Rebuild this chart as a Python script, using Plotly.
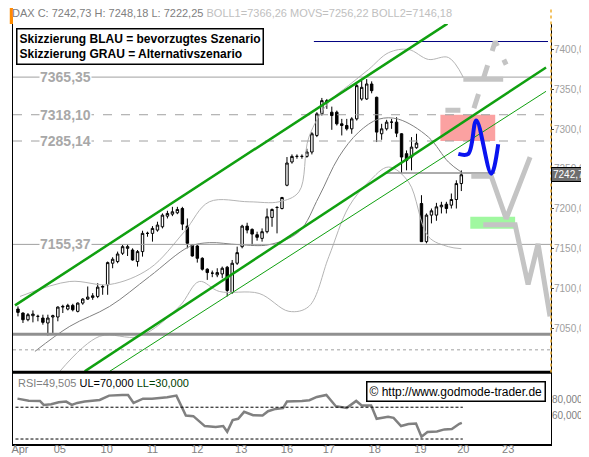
import plotly.graph_objects as go

# hourly candles, Apr 04 - Apr 20 (bar index = position)
opens = [7074.2, 7069.2, 7060.8, 7065.8, 7065, 7062.9, 7056.7, 7064.2, 7064.2, 7076.7,
         7074.2, 7078.8, 7071.3, 7081.7, 7086.7, 7088.8, 7090, 7101.7, 7104.6, 7131.7,
         7133.8, 7144.2, 7150.4, 7148.3, 7133.8, 7146.3, 7169.2, 7169.2, 7173.3, 7177.5,
         7190.8, 7193.3, 7195, 7200.4, 7178.3, 7154.6, 7153.3, 7137.9, 7124.2, 7119.2,
         7117.1, 7118.3, 7126.7, 7095, 7131.7, 7152.5, 7178.3, 7174.2, 7167.5, 7162.9,
         7171.3, 7189.2, 7201.7, 7200.4, 7229.6, 7258.8, 7265.8, 7265.8, 7265.8, 7271.3,
         7292.1, 7319.2, 7333.8, 7321.3, 7321.3, 7306.7, 7304.6, 7300.4, 7312.9, 7337.9,
         7337.9, 7356.7, 7340, 7294.2, 7300.4, 7308.8, 7308.8, 7294.2, 7269.2, 7265,
         7276.7, 7206.7, 7158.8, 7192.1, 7192.1, 7202.5, 7205.8, 7204.6, 7211.7, 7231.7]
highs = [7077.5, 7070, 7069.2, 7072.5, 7067.1, 7067.1, 7067.1, 7067.1, 7077.5, 7079.6,
         7080.8, 7080.8, 7082.5, 7087.9, 7102.5, 7094.2, 7106.7, 7104.6, 7133.8, 7139.2,
         7146.3, 7154.6, 7155.8, 7150.4, 7148.3, 7172.5, 7171.3, 7178.3, 7183.8, 7194.2,
         7197.5, 7202.5, 7202.5, 7202.5, 7187.9, 7155.8, 7154.6, 7139.2, 7125.4, 7122.5,
         7125.4, 7127.5, 7128.3, 7135.8, 7152.5, 7180, 7182.5, 7175.4, 7171.3, 7175.4,
         7200.4, 7200.4, 7203.3, 7215, 7265, 7268.3, 7268.3, 7268.3, 7275.4, 7296.3,
         7321.3, 7339.2, 7337.9, 7328.3, 7323.3, 7312.9, 7312.9, 7315, 7356.7, 7360.8,
         7362.9, 7360, 7340.8, 7306.7, 7311.7, 7312.9, 7315, 7295, 7273.3, 7290,
         7294.2, 7217.1, 7194.2, 7200.4, 7207.5, 7208.8, 7208.8, 7219.2, 7235.8, 7248.2]
lows = [7065, 7056.7, 7058.8, 7057.5, 7058.8, 7054.6, 7040.8, 7044.2, 7058.8, 7069.2,
        7072.5, 7071.3, 7070, 7079.6, 7085.8, 7085.8, 7087.9, 7092.1, 7092.1, 7125.4,
        7131.7, 7142.1, 7140.8, 7135, 7127.5, 7140, 7165, 7158.8, 7171.3, 7175.4,
        7187.9, 7190.8, 7193.3, 7173.3, 7150.4, 7140, 7132.5, 7122.5, 7110.8, 7114.2,
        7114.2, 7112.9, 7090, 7093.3, 7129.6, 7150.4, 7169.2, 7153.3, 7160, 7158.8,
        7169.2, 7177.5, 7169.2, 7199.2, 7228.3, 7256.7, 7262.9, 7262.9, 7264.2, 7268.3,
        7290, 7317.1, 7325.4, 7299.2, 7304.6, 7292.1, 7298.3, 7294.2, 7310.8, 7335.8,
        7336.7, 7345, 7283.8, 7286.7, 7298.3, 7300.4, 7290, 7245, 7248.3, 7248.3,
        7275.4, 7158.8, 7156.7, 7181.7, 7185, 7194.2, 7194.2, 7200.4, 7200.4, 7222.3]
closes = [7070, 7060.8, 7067.1, 7067.9, 7065, 7057.5, 7062.9, 7065.8, 7076.7, 7077.5,
          7078.8, 7073.3, 7081.7, 7086.7, 7089.2, 7090.8, 7101.7, 7102.5, 7132.5, 7136.7,
          7143.3, 7152.5, 7152.5, 7135.8, 7146.3, 7169.2, 7169.2, 7175.4, 7179.6, 7192.1,
          7194.2, 7196.3, 7199.2, 7180.8, 7156.7, 7140.8, 7137.9, 7124.2, 7120, 7119.2,
          7120, 7125.4, 7097.5, 7131.7, 7145, 7178.3, 7173.3, 7168.3, 7164.2, 7171.3,
          7190, 7199.2, 7201.7, 7214.2, 7257.5, 7265.8, 7265.8, 7265.8, 7271.3, 7294.2,
          7319.2, 7335.8, 7335.8, 7317.1, 7306.7, 7304.6, 7300.4, 7312.9, 7354.6, 7352.5,
          7356.7, 7348.3, 7296.3, 7300.4, 7308.8, 7308.8, 7295, 7265, 7260.8, 7277.5,
          7282.5, 7158.8, 7192.1, 7197.5, 7202.5, 7204.6, 7200.4, 7211.7, 7231.7, 7242.73]

boll_up_x = [0.4, 10.4, 18.4, 26.4, 33.4, 38.4, 46.4, 52.4, 56.4, 58.4, 62.4, 66.4, 70.4, 74.4, 78.4, 82.4, 86.4, 89.4]
boll_up_y = [7090, 7108.8, 7105, 7125, 7171.3, 7208.8, 7208.8, 7208.8, 7221.3, 7290, 7333.8, 7355, 7375, 7396, 7400, 7387.5, 7390, 7365]
movs_x = [3.4, 10.4, 18.4, 26.4, 34.4, 38.4, 44.4, 50.4, 56.4, 60.4, 64.4, 68.4, 72.4, 76.4, 82.4, 86.4, 89]
movs_y = [7021, 7052.5, 7077.5, 7115, 7152.5, 7157.5, 7155, 7155, 7171.3, 7215, 7265, 7296.3, 7312.5, 7312.5, 7290, 7258.8, 7246]
boll_lo_x = [8.4, 16.4, 24.4, 32.4, 36.4, 40.4, 48.4, 54.4, 58.4, 62.4, 66.4, 70.4, 74.4, 78.4, 82.4, 86.4, 89]
boll_lo_y = [6996, 7040, 7040, 7077.5, 7108.8, 7096.3, 7093.8, 7071.3, 7077.5, 7140, 7202.5, 7233.8, 7252.5, 7233.8, 7165, 7152.5, 7150]

# trend channel (start/end points)
chan_up = ([-0.6, 86.2], [7078.75, 7432.5])
chan_mid = ([13.4, 106], [6996, 7377.5])
chan_thin = ([18.4, 106], [6996, 7347.5])

# scenarios
blue_x = [88.4, 90.4, 92, 95, 96.4]
blue_y = [7269, 7269, 7311, 7244, 7281]
gray_a_x = [85.8, 91.4, 95.8, 98]
gray_a_y = [7323.8, 7323.8, 7410, 7381]
gray_b_x = [89.4, 97.4]
gray_b_y = [7362.5, 7362.5]
gray_c_x = [91, 95, 98, 102.8]
gray_c_y = [7241, 7241, 7187.5, 7265]
gray_d_x = [93.4, 99.8, 102.4, 104.4, 106.8]
gray_d_y = [7180, 7180, 7105, 7156, 7065]

rsi_x = [-0.1, 2.16, 4.41, 5.16, 6.66, 8.17, 9.67, 10.8, 11.9, 13.4, 16.4, 18.3, 20.9, 22.1, 23.2,
         25.1, 26.9, 29.96, 31.8, 33.7, 35.2, 37.5, 39.7, 41.2, 42, 43.1, 44.2, 45.4, 47.2, 49.1,
         50.2, 51.7, 53.2, 54, 57, 58.5, 60, 61.9, 63.8, 66, 67.9, 69, 70.9, 72, 74.3, 75.4,
         76.9, 78.4, 79.9, 81, 82.2, 84.1, 85.6, 87.1, 88.6, 89.1]
rsi_y = [80.8, 78.3, 77.9, 72.9, 73.8, 76.3, 77.1, 72.9, 75.4, 77.1, 79.2, 84.6, 85.4, 85.4, 75.4,
         80.8, 80.8, 82.5, 84.6, 59.6, 58.8, 46.3, 45, 46.3, 39.2, 53.8, 55.4, 64.2, 60, 59.6,
         65, 67.9, 68.8, 77.1, 77.9, 78.8, 82.9, 85.4, 71.3, 69.2, 77.9, 72.1, 72.1, 55.4, 57.9, 56.7,
         46.3, 48.8, 49.6, 32.9, 38.8, 39.6, 42.1, 42.5, 49.2, 50.4]

levels = [7365.35, 7318.10, 7285.14, 7155.37]
level_labels = ["7365,35", "7318,10", "7285,14", "7155,37"]
day_pos = [0.4, 8.4, 17.8, 27, 36, 44.8, 54, 62.4, 71.6, 80.8, 89.4, 98.4]
day_labels = ["Apr", "05", "10", "11", "12", "13", "16", "17", "18", "19", "20", "23"]
price_ticks = [7050, 7100, 7150, 7200, 7250, 7300, 7350, 7400]

F = "Liberation Sans"
fig = go.Figure()
thin_gray = dict(color="#b4b4b4", width=1, shape="spline")
fig.add_trace(go.Scatter(x=boll_up_x, y=boll_up_y, mode="lines", line=thin_gray))
fig.add_trace(go.Scatter(x=boll_lo_x, y=boll_lo_y, mode="lines", line=thin_gray))
fig.add_trace(go.Scatter(x=movs_x, y=movs_y, mode="lines", line=dict(color="#808080", width=1, shape="spline")))

for lv, dash in zip(levels, ["solid", "dash", "dash", "solid"]):
    fig.add_trace(go.Scatter(x=[-1, 107], y=[lv, lv], mode="lines",
                             line=dict(color="#a0a0a0", width=1, dash=dash)))
fig.add_trace(go.Scatter(x=[-1, 107], y=[7042.5, 7042.5], mode="lines", line=dict(color="#909090", width=3)))
fig.add_trace(go.Scatter(x=[73.8, 95.8], y=[7245, 7245], mode="lines", line=dict(color="#909090", width=1.5)))
fig.add_trace(go.Scatter(x=[-1, 107], y=[7023, 7023], mode="lines", line=dict(color="#a0a0a0", width=1, dash="dot")))
fig.add_trace(go.Scatter(x=[59.4, 106.4], y=[7410, 7410], mode="lines", line=dict(color="#000080", width=1)))

fig.add_shape(type="rect", x0=84.8, x1=95.8, y0=7285.14, y1=7318.1, fillcolor="rgba(250,130,130,0.75)",
              line_width=0, layer="below")
fig.add_shape(type="rect", x0=90.8, x1=99.8, y0=7175, y1=7190, fillcolor="#a0f8a0", line_width=0, layer="below")

for (cx, cy), w in zip([chan_up, chan_mid, chan_thin], [2.5, 2.5, 1]):
    fig.add_trace(go.Scatter(x=cx, y=cy, mode="lines", line=dict(color="#10a010", width=w)))

fig.add_trace(go.Candlestick(x=list(range(len(closes))), open=opens, high=highs, low=lows, close=closes,
                             increasing=dict(line=dict(color="black", width=1), fillcolor="white"),
                             decreasing=dict(line=dict(color="black", width=1), fillcolor="black"),
                             whiskerwidth=0))

gl = dict(color="#c4c4c4", width=5)
fig.add_trace(go.Scatter(x=gray_a_x, y=gray_a_y, mode="lines", line=dict(dash="dash", **gl)))
fig.add_trace(go.Scatter(x=gray_b_x, y=gray_b_y, mode="lines", line=gl))
fig.add_trace(go.Scatter(x=gray_c_x, y=gray_c_y, mode="lines", line=gl))
fig.add_trace(go.Scatter(x=gray_d_x, y=gray_d_y, mode="lines", line=gl))
fig.add_trace(go.Scatter(x=blue_x, y=blue_y, mode="lines", line=dict(color="#0a14f0", width=4, shape="spline")))

fig.add_trace(go.Scatter(x=rsi_x, y=rsi_y, mode="lines", line=dict(color="#808080", width=2.5),
                         xaxis="x2", yaxis="y2"))
for v in [70, 30]:
    fig.add_trace(go.Scatter(x=[-0.5, 89.3], y=[v, v], mode="lines",
                             line=dict(color="black", width=1, dash="3px,2px"), xaxis="x2", yaxis="y2"))

for lv, t in zip(levels, level_labels):
    fig.add_annotation(x=4.3, y=lv, text="<b>" + t + "</b>", showarrow=False, xanchor="left", yanchor="middle",
                       font=dict(family=F, size=14, color="#a8a8a8"), bgcolor="white", borderpad=0)
fig.add_annotation(xref="paper", x=1.0, y=7242.73, text="7242,73", showarrow=False, xanchor="left",
                   font=dict(family=F, size=10, color="white"), bgcolor="#6e6e6e", bordercolor="black", borderpad=1)
fig.add_annotation(xref="paper", yref="paper", x=-0.005, y=1.045, xanchor="left", yanchor="top", showarrow=False,
                   text="DAX C: 7242,73 H: 7248,18 L: 7222,25 <span style='color:#c0c0c0'>BOLL1=7366,26 MOVS=7256,22 BOLL2=7146,18</span>",
                   font=dict(family=F, size=11, color="#808080"))
fig.add_annotation(xref="paper", yref="paper", x=0.005, y=0.99, xanchor="left", yanchor="top", showarrow=False, align="left",
                   text="<b>Skizzierung BLAU = bevorzugtes Szenario<br>Skizzierung GRAU = Alternativszenario</b>",
                   font=dict(family=F, size=12, color="black"), bgcolor="white", bordercolor="black", borderwidth=1.5, borderpad=2)
fig.add_annotation(xref="paper", yref="paper", x=0.005, y=0.165, xanchor="left", yanchor="top", showarrow=False,
                   text="RSI=49,505 <span style='color:black'>UL=70,000</span> <span style='color:#004000'>LL=30,000</span>",
                   font=dict(family=F, size=11, color="#808080"))
fig.add_annotation(xref="paper", yref="paper", x=0.99, y=0.15, xanchor="right", yanchor="top", showarrow=False,
                   text="© http://www.godmode-trader.de", font=dict(family=F, size=12, color="black"),
                   bgcolor="white", bordercolor="black", borderwidth=1.5, borderpad=2)
fig.add_shape(type="rect", xref="paper", yref="paper", x0=-0.006, x1=0.0, y0=1.0, y1=1.04,
              fillcolor="#ff8c00", line_width=0)
fig.add_shape(type="line", xref="paper", yref="paper", x0=0, x1=1, y0=0.171, y1=0.171, line=dict(color="black", width=3))
fig.add_shape(type="line", xref="paper", yref="paper", x0=1.0, x1=1.0, y0=0.17, y1=1.04,
              line=dict(color="#f0b030", width=1.5, dash="dot"))
fig.add_shape(type="line", xref="paper", yref="paper", x0=1.08, x1=1.08, y0=0.17, y1=1.04,
              line=dict(color="#2040c0", width=2))

fig.update_layout(
    width=589, height=457, margin=dict(l=3, r=46, t=16, b=21),
    paper_bgcolor="white", plot_bgcolor="white", showlegend=False,
    xaxis=dict(range=[-1, 107], domain=[0, 1], showticklabels=False, showgrid=False, zeroline=False,
               rangeslider=dict(visible=False), anchor="y"),
    yaxis=dict(range=[6996, 7432], domain=[0.173, 1], side="right", tickvals=price_ticks,
               ticktext=[f"{v},00" for v in price_ticks], showgrid=False, zeroline=False,
               tickfont=dict(family=F, size=10, color="#a0a0a0"), ticks="outside", ticklen=2,
               ticklabelstandoff=-2, showline=True, linecolor="black", mirror=True),
    xaxis2=dict(range=[-1, 107], domain=[0, 1], anchor="y2", tickvals=day_pos, ticktext=day_labels,
                showgrid=False, zeroline=False, tickfont=dict(family=F, size=11, color="#808080"),
                ticklabelstandoff=-6, showline=True, linecolor="black", mirror=True, linewidth=1.5),
    yaxis2=dict(range=[23.75, 112.5], domain=[0, 0.168], side="right", tickvals=[60, 80],
                ticktext=["60,0000", "80,0000"], showgrid=False, zeroline=False, ticklabelstandoff=-2,
                tickfont=dict(family=F, size=10, color="#808080"), showline=True, linecolor="black", mirror=True),
)
fig.write_html("out.html")
